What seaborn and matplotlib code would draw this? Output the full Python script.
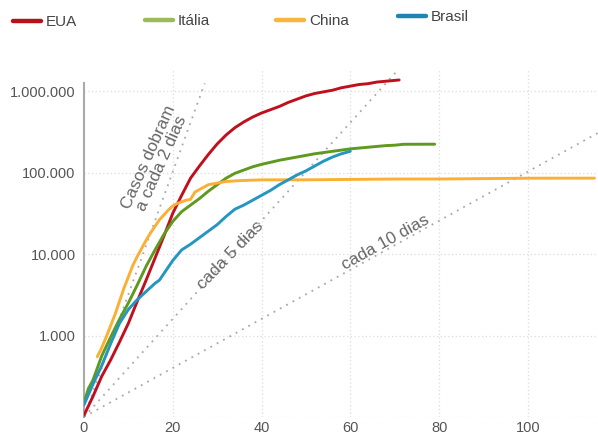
import matplotlib
matplotlib.use("Agg")
import numpy as np
import pandas as pd
import seaborn as sns
import matplotlib.pyplot as plt
from matplotlib.lines import Line2D
from matplotlib.ticker import NullLocator

# Cumulative confirmed cases, counted in days since the 100th case
eua_dias = [0, 2, 4, 6, 8, 10, 12, 14, 16, 18, 20, 22, 24, 26, 28, 30, 32, 34, 36, 38,
            40, 42, 44, 46, 48, 50, 52, 54, 56, 58, 60, 62, 64, 66, 68, 70, 71]
eua_casos = [105, 178, 316, 501, 832, 1413, 2630, 4790, 8910, 16600, 31600, 52500,
             85100, 120000, 166000, 224000, 288000, 355000, 417000, 479000, 537000,
             589000, 646000, 724000, 794000, 871000, 933000, 977000, 1023000, 1096000,
             1148000, 1202000, 1230000, 1288000, 1318000, 1349000, 1365000]

italia_dias = [0, 1, 2, 3, 4, 6, 8, 10, 12, 14, 16, 18, 20, 22, 24, 26, 28, 30, 32, 34,
               36, 38, 40, 44, 48, 52, 56, 60, 64, 68, 70, 72, 79]
italia_casos = [151, 224, 282, 398, 562, 955, 1585, 2512, 4169, 7079, 11220, 17380,
                25120, 33110, 39810, 47860, 58880, 70790, 85110, 97720, 107200, 117500,
                125900, 141300, 154900, 169800, 182000, 195000, 204200, 213800, 216300,
                222000, 222500]

china_dias = [3, 4, 5, 6, 7, 8, 9, 10, 11, 12, 13, 14, 15, 16, 17, 18, 19, 20, 21, 22,
              23, 24, 25, 26, 27, 28, 30, 32, 35, 40, 50, 60, 70, 80, 90, 100, 115]
china_casos = [550, 708, 955, 1318, 1820, 2630, 3802, 5248, 7244, 9333, 11750, 14790,
               18200, 21880, 26300, 30200, 34670, 38900, 41690, 43650, 45710, 46770,
               57540, 61660, 66070, 70790, 74130, 77620, 79430, 81280, 81300, 82220,
               83180, 83200, 84140, 85110, 85200]

brasil_dias = [0, 2, 4, 6, 8, 10, 12, 14, 16, 17, 18, 20, 22, 24, 26, 28, 30, 32, 34,
               36, 38, 40, 42, 44, 46, 48, 50, 52, 54, 56, 58, 60]
brasil_casos = [141, 251, 427, 794, 1413, 2089, 2754, 3467, 4365, 4786, 5754, 8318,
                11220, 13180, 15850, 19050, 22910, 28840, 35480, 39810, 45710, 52480,
                60260, 70790, 81280, 93330, 104700, 120200, 138000, 154900, 169800,
                182000]

paises = ["EUA", "Itália", "China", "Brasil"]
cores_linha = ["#c0101e", "#5e9a1e", "#fbb034", "#2496bf"]
cores_legenda = ["#b5121b", "#9bbb59", "#f7b53b", "#1f86b2"]

# Doubling-time guide lines: period in days and where each one stops
dobra_periodos = [2, 5, 10]
dobra_fim = [27.2, 70.6, 116]
dobra_rotulos = ["Casos dobram\na cada 2 dias", "cada 5 dias", "cada 10 dias"]

y_ticks = [100, 1000, 10000, 100000, 1000000]
y_rotulos = ["", "1.000", "10.000", "100.000", "1.000.000"]
x_ticks = [0, 20, 40, 60, 80, 100]

df = pd.concat([
    pd.DataFrame({"dia": eua_dias, "casos": eua_casos, "pais": "EUA"}),
    pd.DataFrame({"dia": italia_dias, "casos": italia_casos, "pais": "Itália"}),
    pd.DataFrame({"dia": china_dias, "casos": china_casos, "pais": "China"}),
    pd.DataFrame({"dia": brasil_dias, "casos": brasil_casos, "pais": "Brasil"}),
], ignore_index=True)

sns.set_theme(style="white")
plt.rcParams["font.family"] = ["Liberation Sans", "DejaVu Sans"]

fig = plt.figure(figsize=(5.98, 4.34), dpi=100)
ax = fig.add_axes([84 / 598, 17 / 434, 514 / 598, 346.8 / 434])

ax.set_yscale("log")
ax.set_xlim(0, 115.8)
ax.set_ylim(100, 1.8e6)

# dotted grid
for xv in x_ticks[1:]:
    ax.axvline(xv, color="#dcdcdc", lw=0.9, ls=(0, (1, 2)), zorder=0)
for yv in y_ticks:
    ax.axhline(yv, color="#dcdcdc", lw=0.9, ls=(0, (1, 2)), zorder=0)

# doubling guides
for periodo, fim in zip(dobra_periodos, dobra_fim):
    xs = np.linspace(0, fim, 50)
    ax.plot(xs, 100 * 2 ** (xs / periodo), color="#a8a8a8", lw=1.3,
            ls=(0, (1, 3)), zorder=1)

sns.lineplot(data=df, x="dia", y="casos", hue="pais", hue_order=paises,
             palette=cores_linha, lw=2.1, estimator=None, sort=False,
             legend=False, ax=ax, zorder=3)

txt = dict(color="#666666", fontsize=12.3, ha="center", va="center")
ax.text(16.0, 1.4e5, dobra_rotulos[0], rotation=66, linespacing=1.0, **txt)
ax.text(33.0, 9.6e3, dobra_rotulos[1], rotation=46, **txt)
ax.text(68.0, 1.4e4, dobra_rotulos[2], rotation=29, **txt)

ax.set_yticks(y_ticks)
ax.set_yticklabels(y_rotulos)
ax.yaxis.set_minor_locator(NullLocator())
ax.set_xticks(x_ticks)
ax.tick_params(axis="both", length=0, labelsize=10.5, labelcolor="#555555")
ax.tick_params(axis="y", pad=6)
ax.tick_params(axis="x", pad=3)
ax.set_xlabel("")
ax.set_ylabel("")

for s in ["top", "right", "bottom"]:
    ax.spines[s].set_visible(False)
ax.spines["left"].set_color("#aaaaaa")
ax.spines["left"].set_linewidth(1.5)
ax.spines["left"].set_bounds(100, 1.25e6)

# legend row across the top
leg_x = [13, 145, 276, 398]
leg_y = [22, 21, 21, 17]
for nome, cor, lx, ly in zip(paises, cores_legenda, leg_x, leg_y):
    h = Line2D([], [], color=cor, lw=3.2)
    lg = fig.legend([h], [nome], loc="center left",
                    bbox_to_anchor=(lx / 598, 1 - ly / 434), frameon=False,
                    fontsize=11, handlelength=1.85, handletextpad=0.3,
                    borderpad=0, borderaxespad=0)
    for t in lg.get_texts():
        t.set_color("#444444")

fig.savefig("out.png", dpi=100)
